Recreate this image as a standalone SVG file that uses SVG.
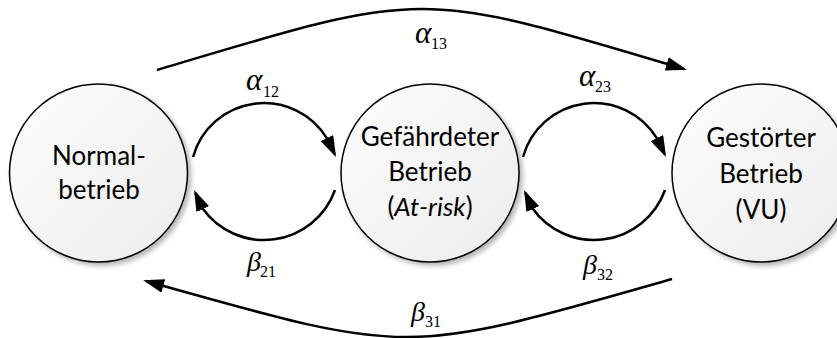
<svg xmlns="http://www.w3.org/2000/svg" width="837" height="338" viewBox="0 0 837 338">
<defs>
<linearGradient id="fillG" x1="0" y1="0" x2="1" y2="1">
<stop offset="0" stop-color="#fdfdfd"/>
<stop offset="1" stop-color="#ececec"/>
</linearGradient>
<filter id="shadow" x="-20%" y="-20%" width="140%" height="140%">
<feGaussianBlur in="SourceAlpha" stdDeviation="2.5" result="blur"/>
<feOffset in="blur" dx="3" dy="3" result="off"/>
<feComponentTransfer in="off" result="sh"><feFuncA type="linear" slope="0.3"/></feComponentTransfer>
<feMerge><feMergeNode in="sh"/><feMergeNode in="SourceGraphic"/></feMerge>
</filter>
<marker id="arrow" viewBox="0 0 21 14" refX="18" refY="7" markerWidth="21" markerHeight="14" markerUnits="userSpaceOnUse" orient="auto">
<path d="M0,0 L21,7 L0,14 z" fill="#000"/>
</marker>
</defs>
<style>
.node circle{fill:url(#fillG);stroke:#000;stroke-width:1.5;filter:url(#shadow)}
.node text{font-family:Lato,"Open Sans",sans-serif;font-size:26px;text-anchor:middle;fill:#000}
.conn path{fill:none;stroke:#000;stroke-width:2.5;marker-end:url(#arrow)}
.lbl{font-family:"Liberation Serif","Times New Roman",serif;font-style:italic;font-size:28px;fill:#000}
.a{font-size:31px}
.sub{font-family:"Liberation Serif","Times New Roman",serif;font-size:16px;fill:#000}
</style>

<g id="connectors" class="conn">
<path d="M157,70 C427,-11 417,-11 684,69"/>
<path d="M672,279 C402,356 412,356 146,281"/>
<path d="M193,157 A73.7,73.7 0 0,1 327.3,138.9 L334.7,154.3"/>
<path d="M335,190 A75.4,75.4 0 0,1 202.3,208 L195.3,192.7"/>
<path d="M523,157 A73.7,73.7 0 0,1 657.3,138.9 L664.7,154.3"/>
<path d="M665,190 A75.4,75.4 0 0,1 532.3,208 L525.3,192.7"/>
</g>

<g id="labels">
<text class="lbl a" x="415" y="43">α</text><text class="sub" x="431" y="48.5">13</text>
<text class="lbl a" x="246" y="90">α</text><text class="sub" x="263" y="96.5">12</text>
<text class="lbl a" x="579" y="86">α</text><text class="sub" x="595" y="92">23</text>
<text class="lbl" x="247" y="271">β</text><text class="sub" x="260" y="277">21</text>
<text class="lbl" x="583" y="274">β</text><text class="sub" x="597" y="280">32</text>
<text class="lbl" x="411" y="321">β</text><text class="sub" x="425" y="327">31</text>
</g>

<g id="node-normal" class="node">
<circle cx="98.5" cy="173" r="89"/>
<text x="99" y="165">Normal-</text>
<text x="99" y="199">betrieb</text>
</g>

<g id="node-gefaehrdet" class="node">
<circle cx="430" cy="173" r="89"/>
<text x="430" y="146">Gefährdeter</text>
<text x="430" y="181">Betrieb</text>
<text x="430" y="216">(<tspan font-style="italic">At-risk</tspan>)</text>
</g>

<g id="node-gestoert" class="node">
<circle cx="761" cy="173" r="89"/>
<text x="761" y="147">Gestörter</text>
<text x="761" y="183">Betrieb</text>
<text x="761" y="219">(VU)</text>
</g>
</svg>
